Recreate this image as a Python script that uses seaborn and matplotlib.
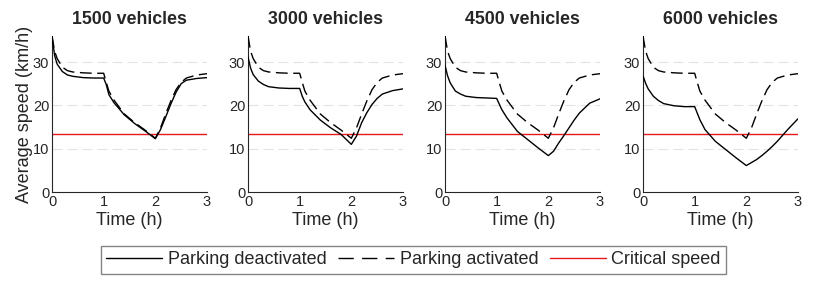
import numpy as np
import pandas as pd
import seaborn as sns
import matplotlib.pyplot as plt
from matplotlib.lines import Line2D

# values
time_h = [0, 0.05, 0.1, 0.2, 0.3, 0.4, 0.6, 0.8, 1.0, 1.05, 1.1, 1.2, 1.4, 1.6,
          1.8, 2.0, 2.1, 2.2, 2.3, 2.4, 2.5, 2.6, 2.8, 3.0]

parking_activated = [36.0, 32.5, 30.8, 28.8, 28.0, 27.7, 27.5, 27.4, 27.4, 25.3, 23.3, 21.2,
                     18.0, 16.0, 14.3, 12.4, 14.8, 18.0, 21.0, 23.6, 25.3, 26.3, 27.0, 27.3]

deactivated_1500 = [36.0, 31.5, 29.5, 27.8, 27.0, 26.7, 26.4, 26.3, 26.3, 24.8, 22.5, 20.6,
                    17.8, 15.8, 14.1, 12.3, 14.4, 17.3, 20.3, 23.0, 25.0, 25.8, 26.2, 26.4]
deactivated_3000 = [31.2, 28.6, 27.1, 25.6, 24.8, 24.3, 24.0, 23.9, 23.9, 22.1, 20.8, 19.0,
                    16.6, 14.8, 13.3, 11.0, 12.9, 16.0, 18.3, 20.2, 21.6, 22.6, 23.4, 23.8]
deactivated_4500 = [29.2, 26.8, 25.2, 23.3, 22.6, 22.1, 21.8, 21.7, 21.6, 20.3, 19.0, 17.1,
                    14.0, 12.1, 10.2, 8.4, 9.4, 11.3, 13.0, 14.8, 16.6, 18.2, 20.5, 21.5]
deactivated_6000 = [26.8, 25.1, 23.8, 22.1, 21.1, 20.4, 19.9, 19.7, 19.7, 18.2, 16.7, 14.4,
                    11.7, 9.8, 7.9, 6.1, 6.8, 7.5, 8.4, 9.4, 10.5, 11.7, 14.4, 16.9]

vehicles = [1500, 3000, 4500, 6000]
deactivated = [deactivated_1500, deactivated_3000, deactivated_4500, deactivated_6000]
critical_speed = 13.3

sns.set_style("white")
plt.rcParams['font.family'] = ['Liberation Sans', 'DejaVu Sans']
plt.rcParams['xtick.direction'] = 'in'
plt.rcParams['ytick.direction'] = 'in'

fig = plt.figure(figsize=(8.3, 2.86), dpi=100)
lefts = [52, 248, 445, 643]
dark = '#262626'

for i, n in enumerate(vehicles):
    ax = fig.add_axes([lefts[i] / 830, 1 - 192 / 286, 155 / 830, 156 / 286])
    df = pd.DataFrame({
        'Time': time_h * 2,
        'Speed': deactivated[i] + parking_activated,
        'Case': ['Parking deactivated'] * len(time_h) + ['Parking activated'] * len(time_h),
    })
    for y in [10, 20, 30]:
        ax.axhline(y, color='#e2e2e2', lw=0.8, ls=(0, (9, 4.5)), zorder=0)
    sns.lineplot(data=df, x='Time', y='Speed', style='Case', ax=ax, color='black', lw=1.0,
                 dashes={'Parking deactivated': '', 'Parking activated': (8.5, 4)},
                 legend=False, zorder=3)
    ax.axhline(critical_speed, color='#e8191c', lw=1.0, zorder=2)
    ax.set_xlim(0, 3)
    ax.set_ylim(0, 36)
    ax.set_xticks([0, 1, 2, 3])
    ax.set_yticks([0, 10, 20, 30])
    ax.tick_params(length=3, width=0.6, labelsize=10.5, colors=dark, pad=2)
    for s in ['top', 'right']:
        ax.spines[s].set_visible(False)
    for s in ['left', 'bottom']:
        ax.spines[s].set_color(dark)
        ax.spines[s].set_linewidth(0.8)
    ax.set_title(f'{n} vehicles', fontsize=12.8, fontweight='bold', pad=9)
    ax.set_xlabel('Time (h)', fontsize=13, color=dark, labelpad=2)
    if i == 0:
        ax.set_ylabel('Average speed (km/h)', fontsize=13, color=dark, labelpad=0)
    else:
        ax.set_ylabel('')

handles = [Line2D([], [], color='black', lw=1.0),
           Line2D([], [], color='black', lw=1.0, ls=(0, (11, 6))),
           Line2D([], [], color='#e8191c', lw=1.0)]
labels = ['Parking deactivated', 'Parking activated', 'Critical speed']
leg = fig.legend(handles, labels, loc='center', bbox_to_anchor=(413.5 / 830, 1 - 260 / 286),
                 ncol=3, fontsize=13, frameon=True, fancybox=False, handlelength=3.1,
                 handletextpad=0.3, columnspacing=0.65, borderpad=0.3, borderaxespad=0)
leg.get_frame().set_edgecolor('#666666')
leg.get_frame().set_linewidth(1.0)

fig.savefig('out.png', dpi=100)
